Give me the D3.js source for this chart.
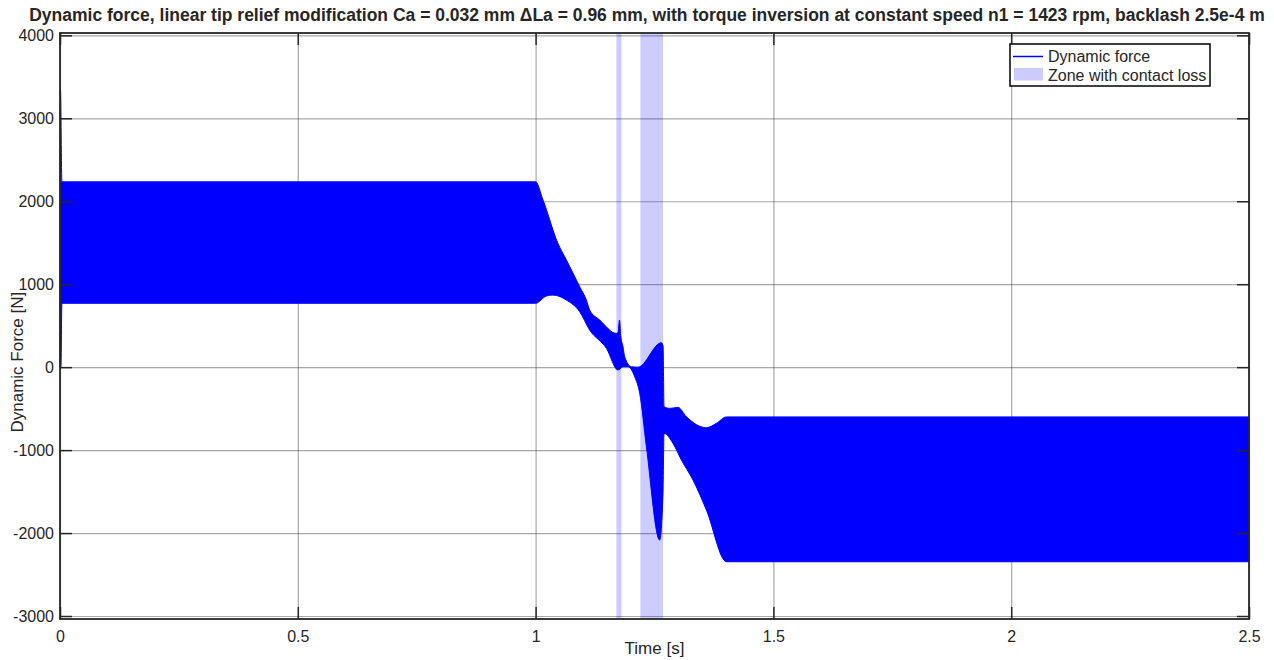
<!DOCTYPE html>
<html>
<head>
<meta charset="utf-8">
<script src="https://cdn.jsdelivr.net/npm/d3@7"></script>
<style>
    body {margin: 0; background: #fff;}
    text {font-family: "Liberation Sans", Arial, Helvetica, sans-serif; fill: #262626;}
</style>
</head>
<body>
<div id="chart"></div>
<script>

//upper envelope of the dynamic force oscillation
let upperTime  = [0, 0.001, 0.004, 1.0, 1.0156, 1.047, 1.0648, 1.0788, 1.0927, 1.1067, 1.1137, 1.1348, 1.1699,
    1.1735, 1.1763, 1.179, 1.1838, 1.1873, 1.2014, 1.2153, 1.2645, 1.268, 1.2700, 1.282, 1.2994, 1.3171, 1.3591,
    1.3802, 1.4012, 2.5];
let upperForce = [0, 3340, 2234, 2234, 2014, 1492, 1291, 1131, 969, 809, 688, 568, 407,
    420, 568, 380, 246, 125, 5, 0, 294, 254, -477, -497, -485, -598, -730,
    -677, -600, -600];

//lower envelope of the dynamic force oscillation
let lowerTime  = [0, 0.002, 0.004, 1.0, 1.0227, 1.0366, 1.0648, 1.0927, 1.1137, 1.1489, 1.1733, 1.1838, 1.1943,
    1.2084, 1.2189, 1.2330, 1.2609, 1.2679, 1.2700, 1.2889, 1.3066, 1.3310, 1.3591, 1.4012, 2.5];
let lowerForce = [0, 0, 770, 770, 857, 869, 809, 668, 447, 227, -35, 5, 5,
    -116, -316, -960, -2084, -1521, -798, -919, -1120, -1361, -1722, -2346, -2346];

//zones with contact loss
let zoneStart = [1.1699, 1.2203];
let zoneEnd   = [1.1804, 1.2679];

let xTicks = [0, 0.5, 1, 1.5, 2, 2.5];
let yTicks = [-3000, -2000, -1000, 0, 1000, 2000, 3000, 4000];
let legendLabels = ["Dynamic force", "Zone with contact loss"];
let titleText = "Dynamic force, linear tip relief modification Ca = 0.032 mm \u0394La = 0.96 mm, with torque inversion at constant speed n1 = 1423 rpm, backlash 2.5e-4 m";

class ForceChart {

    constructor(_parentElement) {
        this.parentElement = _parentElement;
        this.initVis();
    }

    initVis() {
        let vis = this;

        vis.margin = {top: 33, right: 25, bottom: 41, left: 60};
        vis.width = 1274 - vis.margin.left - vis.margin.right;
        vis.height = 660 - vis.margin.top - vis.margin.bottom;

        vis.root = d3.select("#" + vis.parentElement).append("svg")
            .attr("width", 1274)
            .attr("height", 660);

        vis.svg = vis.root.append("g")
            .attr("transform", "translate(" + vis.margin.left + "," + vis.margin.top + ")");

        //scales
        vis.x = d3.scaleLinear().domain([0, 2.5]).range([0, vis.width]);
        vis.y = d3.scaleLinear().domain([-3036, 4028]).range([vis.height, 0]);

        //grid lines
        vis.svg.append("g")
            .attr("class", "grid")
            .attr("transform", "translate(0," + vis.height + ")")
            .call(d3.axisBottom(vis.x).tickValues(xTicks).tickSize(-vis.height).tickFormat(""));
        vis.svg.append("g")
            .attr("class", "grid")
            .call(d3.axisLeft(vis.y).tickValues(yTicks).tickSize(-vis.width).tickFormat(""));
        vis.svg.selectAll(".grid .domain").remove();
        vis.svg.selectAll(".grid line")
            .attr("stroke", "#262626")
            .attr("stroke-opacity", 0.4)
            .attr("stroke-width", 1.2);

        vis.wrangleData();
    }

    wrangleData() {
        let vis = this;

        vis.upper = upperTime.map((t, i) => ({t: t, f: upperForce[i]}));
        //lower envelope walked backwards so the band closes
        vis.lower = lowerTime.map((t, i) => ({t: t, f: lowerForce[i]})).reverse();

        vis.zones = zoneStart.map((s, i) => ({start: s, end: zoneEnd[i]}));

        vis.updateVis();
    }

    updateVis() {
        let vis = this;

        //contact loss zones
        vis.svg.selectAll(".zone")
            .data(vis.zones)
            .enter()
            .append("rect")
            .attr("class", "zone")
            .attr("x", d => vis.x(d.start))
            .attr("y", 0)
            .attr("width", d => vis.x(d.end) - vis.x(d.start))
            .attr("height", vis.height)
            .attr("fill", "#0000ff")
            .attr("fill-opacity", 0.2);

        //dynamic force band
        let line = d3.line()
            .x(d => vis.x(d.t))
            .y(d => vis.y(d.f))
            .curve(d3.curveMonotoneX);

        let bandPath = line(vis.upper) + "L" + line(vis.lower).substring(1) + "Z";

        vis.svg.append("path")
            .attr("d", bandPath)
            .attr("fill", "#0000ff")
            .attr("stroke", "#0000ff")
            .attr("stroke-width", 1)
            .attr("stroke-linejoin", "round");

        //axes with ticks inside
        vis.svg.append("g")
            .attr("class", "axis")
            .attr("transform", "translate(0," + vis.height + ")")
            .call(d3.axisBottom(vis.x).tickValues(xTicks).tickSizeInner(-12).tickSizeOuter(0).tickPadding(12)
                .tickFormat(d => d));
        let yAxis = vis.svg.append("g")
            .attr("class", "axis")
            .call(d3.axisLeft(vis.y).tickValues(yTicks).tickSizeInner(-12).tickSizeOuter(0)
                .tickFormat(d => d));
        vis.svg.append("g")
            .attr("class", "axis")
            .call(d3.axisTop(vis.x).tickValues(xTicks).tickSizeInner(-12).tickSizeOuter(0).tickFormat(""));
        vis.svg.append("g")
            .attr("class", "axis")
            .attr("transform", "translate(" + vis.width + ",0)")
            .call(d3.axisRight(vis.y).tickValues(yTicks).tickSizeInner(-12).tickSizeOuter(0).tickFormat(""));

        vis.svg.selectAll(".axis .domain").remove();
        vis.svg.selectAll(".axis line").attr("stroke", "#262626").attr("stroke-width", 1.5);
        vis.svg.selectAll(".axis text")
            .style("font-size", "16px")
            .attr("fill", "#262626");
        yAxis.selectAll("text").attr("x", -6);

        //box
        vis.svg.append("rect")
            .attr("width", vis.width)
            .attr("height", vis.height)
            .attr("fill", "none")
            .attr("stroke", "#262626")
            .attr("stroke-width", 1.8);

        //axis labels
        vis.svg.append("text")
            .attr("x", vis.width / 2)
            .attr("y", vis.height + 35)
            .attr("text-anchor", "middle")
            .style("font-size", "17px")
            .text("Time [s]");

        vis.svg.append("text")
            .attr("transform", "translate(-37," + (vis.y(0) - 5) + ") rotate(-90)")
            .attr("text-anchor", "middle")
            .style("font-size", "17px")
            .text("Dynamic Force [N]");

        //title
        vis.root.append("text")
            .attr("x", 647)
            .attr("y", 21)
            .attr("text-anchor", "middle")
            .style("font-size", "17.5px")
            .style("font-weight", "bold")
            .attr("fill", "#000")
            .text(titleText);

        //legend
        let legend = vis.root.append("g")
            .attr("transform", "translate(1010,44)");

        legend.append("rect")
            .attr("width", 200)
            .attr("height", 42)
            .attr("fill", "#fff")
            .attr("stroke", "#000")
            .attr("stroke-width", 1.5);

        legend.append("line")
            .attr("x1", 3).attr("x2", 33)
            .attr("y1", 12.5).attr("y2", 12.5)
            .attr("stroke", "#0000ff")
            .attr("stroke-width", 1.5);

        legend.append("rect")
            .attr("x", 4).attr("y", 24)
            .attr("width", 29).attr("height", 12.5)
            .attr("fill", "#0000ff")
            .attr("fill-opacity", 0.2);

        legend.selectAll(".legend-text")
            .data(legendLabels)
            .enter()
            .append("text")
            .attr("class", "legend-text")
            .attr("x", 38)
            .attr("y", (d, i) => 18 + i * 18.5)
            .style("font-size", "16px")
            .attr("fill", "#000")
            .text(d => d);
    }
}

new ForceChart("chart");

</script>
</body>
</html>
